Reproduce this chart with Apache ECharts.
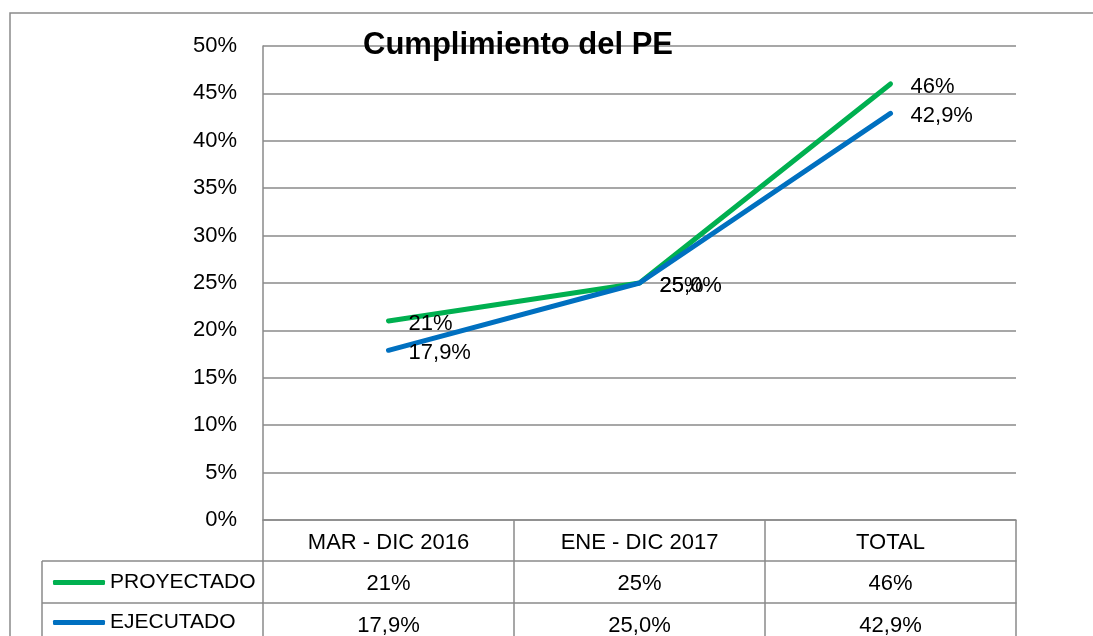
<!DOCTYPE html>
<html>
<head>
<meta charset="utf-8">
<script src="https://cdn.jsdelivr.net/npm/echarts@6/dist/echarts.min.js"></script>
<style>
  html, body { margin: 0; padding: 0; background: #fff; }
  #main { width: 1093px; height: 636px; }
</style>
</head>
<body>
<div id="main"></div>
<script>
// datos del grafico
const categorias = ['MAR - DIC 2016', 'ENE - DIC 2017', 'TOTAL'];
const proyectado = [0.21, 0.25, 0.46];
const ejecutado = [0.179, 0.25, 0.429];
const textoProyectado = ['21%', '25%', '46%'];
const textoEjecutado = ['17,9%', '25,0%', '42,9%'];
const nombres = ['PROYECTADO', 'EJECUTADO'];

const gris = '#8a8a8a';
const fuente = 'Liberation Sans';

const chart = echarts.init(document.getElementById('main'));

// ejes x extra que hacen de filas de la tabla
function filaTabla(datos, offset, largo) {
  return {
    type: 'category',
    position: 'bottom',
    offset: offset,
    data: datos,
    axisLine: { show: true, lineStyle: { color: gris, width: 1.5 } },
    axisTick: { show: true, length: largo, lineStyle: { color: gris, width: 1.5 } },
    axisLabel: { margin: 12, color: '#000', fontSize: 22, fontFamily: fuente }
  };
}

// una leyenda por fila de la tabla
function leyenda(nombre, top) {
  return {
    data: [nombre],
    left: 48,
    top: top,
    itemWidth: 52,
    itemHeight: 5,
    icon: 'roundRect',
    textStyle: { fontSize: 21, color: '#000', fontFamily: fuente }
  };
}

function etiqueta(textos) {
  return {
    show: true,
    position: 'right',
    distance: 20,
    offset: [0, 3],
    fontSize: 22,
    fontFamily: fuente,
    color: '#000',
    formatter: p => textos[p.dataIndex]
  };
}

chart.setOption({
  animation: false,
  title: {
    text: 'Cumplimiento del PE',
    left: 358,
    top: 25,
    textStyle: { fontSize: 31, fontWeight: 'bold', color: '#000', fontFamily: fuente }
  },
  legend: [leyenda(nombres[0], 567), leyenda(nombres[1], 607)],
  grid: { left: 263, right: 77, top: 46, bottom: 116, containLabel: false, outerBoundsMode: 'none' },
  xAxis: [
    filaTabla(categorias, 0, 41),
    filaTabla(textoProyectado, 41, 42),
    filaTabla(textoEjecutado, 83, 40)
  ],
  yAxis: {
    type: 'value',
    min: 0,
    max: 0.5,
    interval: 0.05,
    axisLine: { show: true, lineStyle: { color: gris, width: 1.5 } },
    axisTick: { show: false },
    axisLabel: {
      margin: 26,
      color: '#000',
      fontSize: 22,
      fontFamily: fuente,
      formatter: v => Math.round(v * 100) + '%'
    },
    splitLine: { lineStyle: { color: gris, width: 1.5 } }
  },
  series: [
    {
      name: nombres[0],
      type: 'line',
      data: proyectado,
      symbol: 'circle',
      symbolSize: 0.1,
      color: '#00B050',
      lineStyle: { width: 5, cap: 'round' },
      label: etiqueta(textoProyectado)
    },
    {
      name: nombres[1],
      type: 'line',
      data: ejecutado,
      symbol: 'circle',
      symbolSize: 0.1,
      color: '#0070C0',
      lineStyle: { width: 5, cap: 'round' },
      label: etiqueta(textoEjecutado)
    }
  ],
  graphic: [
    // marco exterior
    { type: 'rect', shape: { x: 10, y: 13, width: 1200, height: 700 },
      style: { fill: 'none', stroke: gris, lineWidth: 1.5 }, silent: true },
    // columna de leyenda de la tabla
    { type: 'line', shape: { x1: 42, y1: 561, x2: 263, y2: 561 }, style: { stroke: gris, lineWidth: 1.5 } },
    { type: 'line', shape: { x1: 42, y1: 603, x2: 263, y2: 603 }, style: { stroke: gris, lineWidth: 1.5 } },
    { type: 'line', shape: { x1: 42, y1: 561, x2: 42, y2: 640 }, style: { stroke: gris, lineWidth: 1.5 } }
  ]
});
</script>
</body>
</html>
